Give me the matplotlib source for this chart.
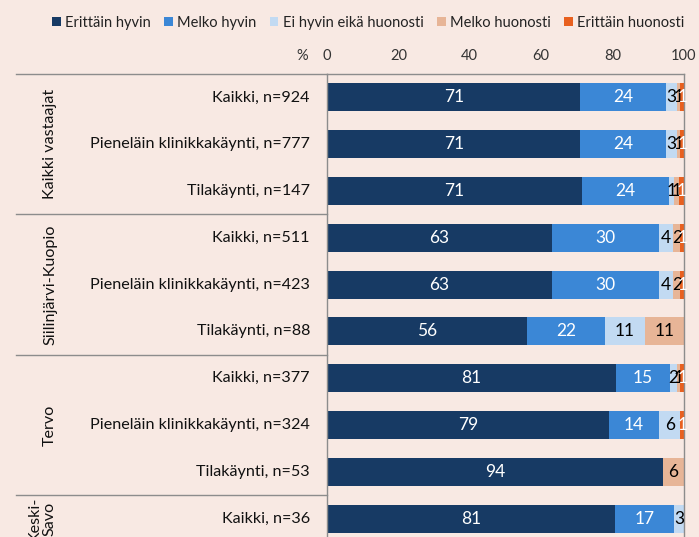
import matplotlib.pyplot as plt
import matplotlib.transforms as mtransforms
import numpy as np

plt.rcParams['font.family'] = ['Lato', 'DejaVu Sans']

# Data
groups = ['Kaikki vastaajat', 'Siilinjärvi-Kuopio', 'Tervo', 'Keski-\nSavo']
group_rows = [(0, 2), (3, 5), (6, 8), (9, 9)]
rows = ['Kaikki, n=924', 'Pieneläin klinikkakäynti, n=777', 'Tilakäynti, n=147',
        'Kaikki, n=511', 'Pieneläin klinikkakäynti, n=423', 'Tilakäynti, n=88',
        'Kaikki, n=377', 'Pieneläin klinikkakäynti, n=324', 'Tilakäynti, n=53',
        'Kaikki, n=36']
series = ['Erittäin hyvin', 'Melko hyvin', 'Ei hyvin eikä huonosti',
          'Melko huonosti', 'Erittäin huonosti']
erittain_hyvin = [71, 71, 71.4, 63, 63, 56, 81, 79, 94, 80.6]
melko_hyvin = [24, 24, 24.4, 30, 30, 22, 15, 14, 0, 16.7]
ei_hyvin_eika = [3, 3, 1.4, 4, 4, 11, 2, 6, 0, 2.8]
melko_huonosti = [1, 1, 1.4, 2, 2, 11, 1, 0, 6, 0]
erittain_huonosti = [1, 1, 1.4, 1, 1, 0, 1, 1, 0, 0]
values = [erittain_hyvin, melko_hyvin, ei_hyvin_eika, melko_huonosti, erittain_huonosti]

colors = ['#173A64', '#3B87D6', '#C2DAF2', '#E7B597', '#E8601F']
text_colors = ['white', 'white', 'black', 'black', 'white']
bg = '#F8E9E3'
line_col = '#8C8C8C'

fig = plt.figure(figsize=(6.99, 5.37), dpi=100, facecolor=bg)
# axes top at y=74px, spacing ~46.8 px per row, extends past the bottom edge
row_px = 46.8
n_vis = 12
top = 1 - 74 / 537
h = n_vis * row_px / 537
ax = fig.add_axes([327 / 699, top - h, 357 / 699, h])
ax.set_facecolor(bg)

y = np.arange(len(rows))
left = np.zeros(len(rows))
for vals, c, tc, name in zip(values, colors, text_colors, series):
    vals = np.array(vals, dtype=float)
    ax.barh(y, vals, left=left, height=0.6, color=c, label=name)
    for yi, l, v in zip(y, left, vals):
        if v > 0:
            ax.text(l + v / 2, yi, '%d' % round(v), ha='center', va='center',
                    color=tc, fontsize=12.5)
    left += vals

ax.set_xlim(0, 100)
ax.set_ylim(n_vis - 0.5, -0.5)
ax.xaxis.tick_top()
ax.set_xticks([0, 20, 40, 60, 80, 100])
ax.tick_params(axis='x', length=0, pad=8, labelsize=10.5, labelcolor='#333333')
ax.set_yticks([])
for s in ['top', 'left', 'right']:
    ax.spines[s].set_color(line_col)
    ax.spines[s].set_linewidth(1)
ax.spines['bottom'].set_visible(False)

trans = mtransforms.blended_transform_factory(ax.transAxes, ax.transData)
x_left = (16 - 327) / 357
# table lines on the left
for yl in [-0.5, 2.5, 5.5, 8.5]:
    ax.plot([x_left, 0], [yl, yl], color=line_col, lw=1, transform=trans, clip_on=False)

# row labels
for yi, lab in zip(y, rows):
    ax.text((310 - 327) / 357, yi, lab, transform=trans, ha='right', va='center',
            fontsize=11.6, color='#111111')

# group labels
for g, (a, b) in zip(groups, group_rows):
    xg = (50 - 327) / 357 if '\n' not in g else (42 - 327) / 357
    ax.text(xg, (a + b) / 2, g, transform=trans, rotation=90, ha='center',
            va='center', multialignment='center', fontsize=11.6, color='#111111',
            linespacing=1.0)

ax.annotate('%', xy=((302 - 327) / 357, 1), xycoords='axes fraction',
            xytext=(0, 8), textcoords='offset points', ha='center', va='bottom',
            fontsize=10.5, color='#333333')

fig.legend(loc='upper center', bbox_to_anchor=(0.527, 0.995), ncol=5, frameon=False,
           fontsize=10.5, handlelength=0.6, handleheight=0.6, handletextpad=0.3,
           columnspacing=0.9, labelcolor='#222222')

fig.savefig('out.png', dpi=100, facecolor=bg)
